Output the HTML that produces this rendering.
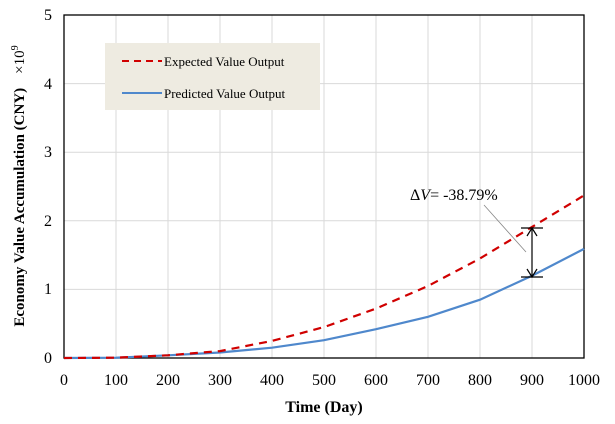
<!DOCTYPE html>
<html><head><style>body{margin:0;background:#fff}</style></head><body>
<svg width="615" height="419" xmlns="http://www.w3.org/2000/svg" font-family="Liberation Serif, serif">
<g stroke="#d9d9d9" stroke-width="1">
<line x1="116" y1="15" x2="116" y2="358"/><line x1="168" y1="15" x2="168" y2="358"/><line x1="220" y1="15" x2="220" y2="358"/><line x1="272" y1="15" x2="272" y2="358"/><line x1="324" y1="15" x2="324" y2="358"/><line x1="376" y1="15" x2="376" y2="358"/><line x1="428" y1="15" x2="428" y2="358"/><line x1="480" y1="15" x2="480" y2="358"/><line x1="532" y1="15" x2="532" y2="358"/>
<line x1="64" y1="83.6" x2="584" y2="83.6"/><line x1="64" y1="152.2" x2="584" y2="152.2"/><line x1="64" y1="220.8" x2="584" y2="220.8"/><line x1="64" y1="289.4" x2="584" y2="289.4"/>
</g>
<rect x="64" y="15" width="520" height="343" fill="none" stroke="#000" stroke-width="1.3"/>
<rect x="105" y="43" width="215" height="67" fill="#eeebe1"/>
<line x1="122" y1="61" x2="162" y2="61" stroke="#d00000" stroke-width="2" stroke-dasharray="7,5"/>
<text x="164" y="66" font-size="13">Expected Value Output</text>
<line x1="122" y1="93" x2="162" y2="93" stroke="#4f88cc" stroke-width="2"/>
<text x="164" y="98" font-size="13">Predicted Value Output</text>
<polyline fill="none" stroke="#4f88cc" stroke-width="2.2" points="64,358 116,357.7 168,355.3 220,352.5 272,347.7 324,340.2 376,329.2 428,316.8 480,299.7 532,275.7 584,248.9"/>
<polyline fill="none" stroke="#d00000" stroke-width="2.2" stroke-dasharray="8,6" points="64,358 116,357.7 168,355.3 220,351.1 272,340.9 324,327.1 376,308.6 428,286 480,258.5 532,227 584,195.4"/>
<line x1="484" y1="205" x2="526" y2="252" stroke="#888" stroke-width="0.8"/>
<g stroke="#000" stroke-width="1.2" fill="none">
<line x1="532" y1="228" x2="532" y2="277"/><line x1="521" y1="228" x2="543" y2="228"/><line x1="521" y1="277" x2="543" y2="277"/>
<polyline points="527,236 532,228 537,236"/><polyline points="527,269 532,277 537,269"/>
</g>
<text x="410" y="200" font-size="16"><tspan>Δ</tspan><tspan font-style="italic">V</tspan>= -38.79%</text>
<g font-size="16" text-anchor="end">
<text x="52" y="363">0</text><text x="52" y="294">1</text><text x="52" y="226">2</text><text x="52" y="157">3</text><text x="52" y="89">4</text><text x="52" y="20">5</text>
</g>
<g font-size="16" text-anchor="middle">
<text x="64" y="385">0</text><text x="116" y="385">100</text><text x="168" y="385">200</text><text x="220" y="385">300</text><text x="272" y="385">400</text><text x="324" y="385">500</text><text x="376" y="385">600</text><text x="428" y="385">700</text><text x="480" y="385">800</text><text x="532" y="385">900</text><text x="584" y="385">1000</text>
</g>
<text x="324" y="412" font-size="16" font-weight="bold" text-anchor="middle">Time (Day)</text>
<text transform="translate(24,186) rotate(-90)" font-size="15" font-weight="bold" text-anchor="middle">Economy Value Accumulation (CNY)<tspan dx="14" font-weight="normal">×10</tspan><tspan font-size="10" dy="-6" font-weight="normal">9</tspan></text>
</svg>
</body></html>
